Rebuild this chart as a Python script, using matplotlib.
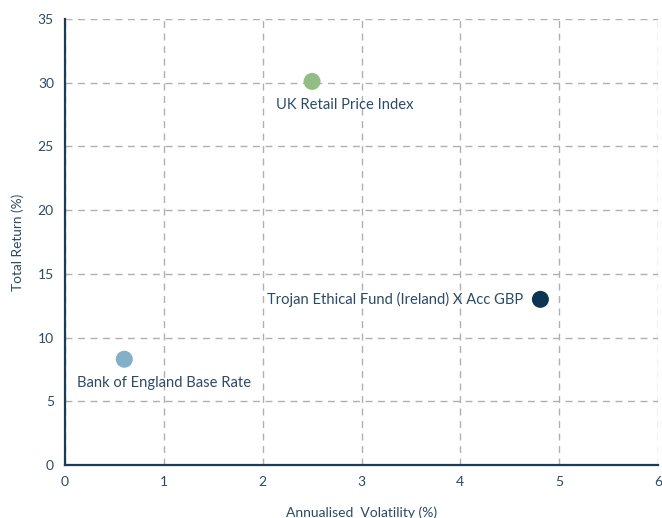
import matplotlib
matplotlib.use("Agg")
import matplotlib.pyplot as plt

names = ["UK Retail Price Index", "Bank of England Base Rate", "Trojan Ethical Fund (Ireland) X Acc GBP"]
volatility = [2.5, 0.6, 4.81]
total_return = [30.1, 8.3, 13.0]
colors = ["#93bd84", "#82b1c7", "#0b3552"]
x_ticks = [0, 1, 2, 3, 4, 5, 6]
y_ticks = [0, 5, 10, 15, 20, 25, 30, 35]

text_c = "#2b4a66"
spine_c = "#1c3b57"
plt.rcParams['font.family'] = ['Lato', 'DejaVu Sans']

fig = plt.figure(figsize=(6.62, 5.18), dpi=100)
ax = fig.add_axes([65/662, 53/518, 593/662, 446/518])
ax.set_xlim(0, 6)
ax.set_ylim(0, 35)
ax.set_xticks(x_ticks)
ax.set_yticks(y_ticks)
ax.grid(True, linestyle=(0, (5, 4)), color="#b0b0b0", linewidth=1)
ax.set_axisbelow(True)
for s in ["top", "right"]:
    ax.spines[s].set_visible(False)
for s in ["left", "bottom"]:
    ax.spines[s].set_color(spine_c)
    ax.spines[s].set_linewidth(1.6)
ax.tick_params(length=0, labelsize=10, labelcolor=text_c, pad=8)

ax.scatter(volatility, total_return, s=150, c=colors, zorder=3, linewidths=0)

offsets = [((-36, -24), "left", "center"), ((-47, -24), "left", "center"), ((-17, 0), "right", "center")]
for n, x, y, (off, ha, va) in zip(names, volatility, total_return, offsets):
    ax.annotate(n, (x, y), xytext=off, textcoords="offset pixels", ha=ha, va=va,
                fontsize=10.6, color=text_c)

ax.set_xlabel("Annualised  Volatility (%)", fontsize=10, color=text_c, labelpad=13)
ax.set_ylabel("Total Return (%)", fontsize=9.8, color=text_c, labelpad=10)

fig.savefig("out.png", dpi=100)
